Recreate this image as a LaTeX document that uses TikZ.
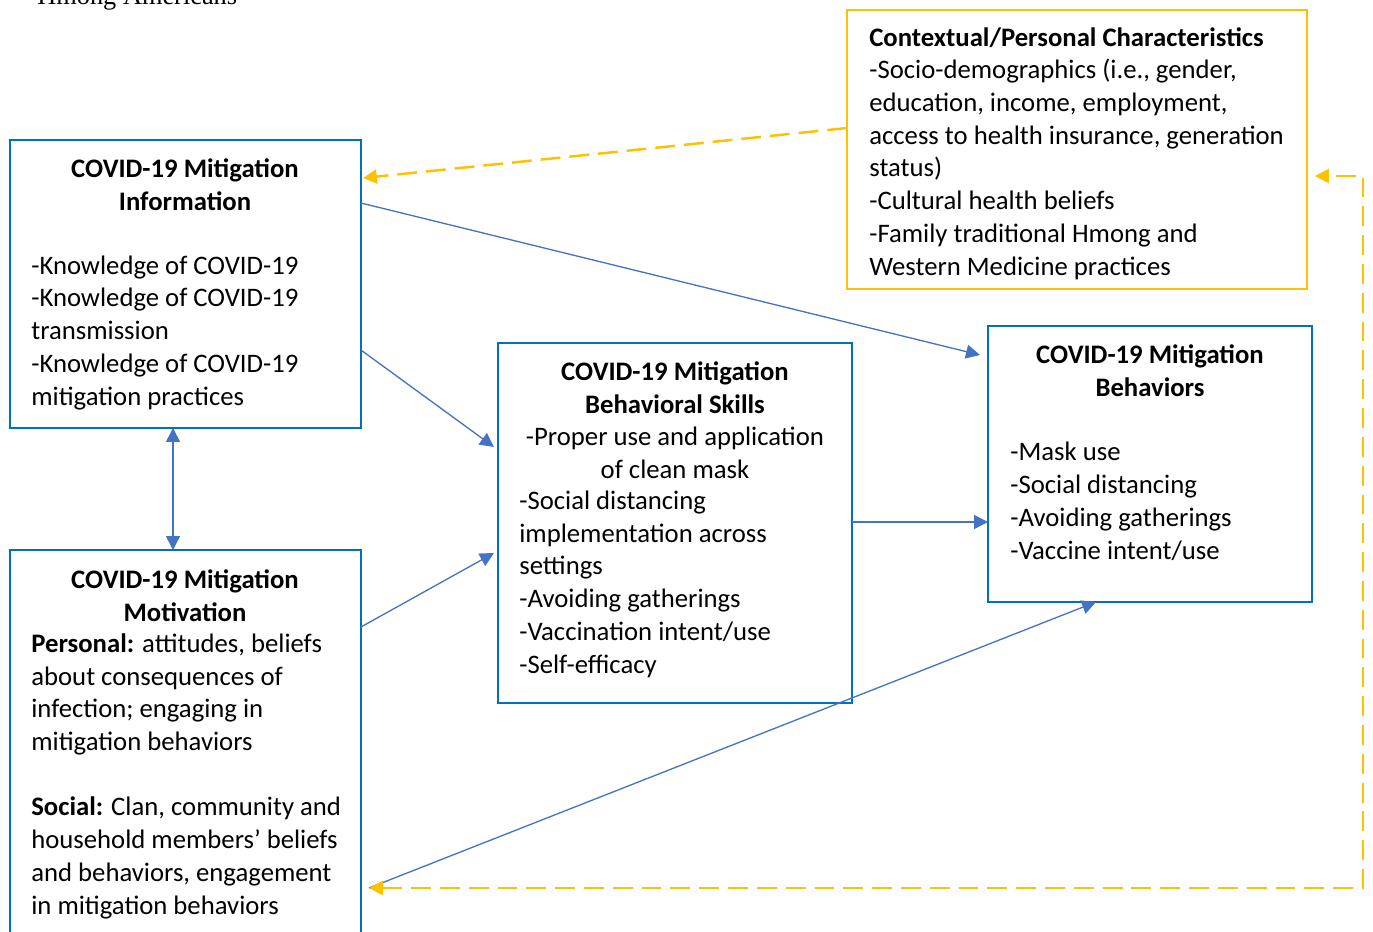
\documentclass[tikz,border=0pt]{standalone}
\usepackage{fontspec}
\setmainfont{Carlito}
\newfontfamily\capfont{Liberation Serif}
\usepackage{tikz}
\usetikzlibrary{arrows.meta,calc}
\usepackage{xcolor}
\definecolor{boxblue}{HTML}{0070C0}
\definecolor{linkblue}{HTML}{4472C4}
\definecolor{ctxgold}{HTML}{FFC000}
\newcommand{\boxfont}{\fontsize{15.2pt}{18.6pt}\selectfont}
\tikzset{
  modelbox/.style={
    draw=boxblue,
    line width=1.5pt,
    inner sep=0pt,
    outer sep=0pt,
    anchor=north west
  },
  ctxbox/.style={
    modelbox,
    draw=ctxgold
  },
  headtext/.style={
    font=\boxfont\bfseries,
    align=center,
    anchor=base,
    inner sep=0pt
  },
  bodytext/.style={
    font=\boxfont,
    align=left,
    anchor=base west,
    inner sep=0pt
  },
  link/.style={
    -{Triangle[length=0.28cm,width=0.28cm]},
    line width=0.75pt,
    draw=linkblue
  },
  ctxlink/.style={
    -{Triangle[length=0.28cm,width=0.28cm]},
    line width=1.4pt,
    draw=ctxgold,
    dash pattern=on 11.3pt off 5.1pt
  }
}

\begin{document}
\begin{tikzpicture}[x=0.02cm,y=-0.02cm]
\useasboundingbox (0,0) rectangle (1373,931);
\clip (0,0) rectangle (1373,931);

\node[anchor=base west, inner sep=0pt, font=\capfont\fontsize{15pt}{18pt}\selectfont] (caption) at (37,4) {Hmong Americans};

% boxes
\node[modelbox, minimum width=7.02cm, minimum height=5.76cm] (info) at (10,140) {};
\node[modelbox, minimum width=7.02cm, minimum height=8.4cm] (motiv) at (10,550) {};
\node[modelbox, minimum width=7.08cm, minimum height=7.2cm] (skills) at (498,343) {};
\node[modelbox, minimum width=6.48cm, minimum height=5.52cm] (behav) at (988,326) {};
\node[ctxbox, minimum width=9.2cm, minimum height=5.58cm] (ctx) at (847,10) {};

% texts (anchored at the baseline of the last line)
\node[headtext] (infohead) at (185,210) {COVID-19 Mitigation\\Information};
\node[bodytext] (infobody) at (31,405) {-Knowledge of COVID-19\\-Knowledge of COVID-19\\transmission\\-Knowledge of COVID-19\\mitigation practices};

\node[headtext] (motivhead) at (185,621) {COVID-19 Mitigation\\Motivation};
\node[bodytext] (motivbody) at (31,914) {\textbf{Personal:} attitudes, beliefs\\about consequences of\\infection; engaging in\\mitigation behaviors\\[18.6pt]\textbf{Social:} Clan, community and\\household members’ beliefs\\and behaviors, engagement\\in mitigation behaviors};

\node[headtext] (skillshead) at (675,413) {COVID-19 Mitigation\\Behavioral Skills};
\node[headtext, font=\boxfont] (skillsmask) at (675,478) {-Proper use and application\\of clean mask};
\node[bodytext] (skillsbody) at (519,673) {-Social distancing\\implementation across\\settings\\-Avoiding gatherings\\-Vaccination intent/use\\-Self-efficacy};

\node[headtext] (behavhead) at (1150,396) {COVID-19 Mitigation\\Behaviors};
\node[bodytext] (behavbody) at (1010,559) {-Mask use\\-Social distancing\\-Avoiding gatherings\\-Vaccine intent/use};

\node[bodytext] (ctxbody) at (869,275) {\textbf{Contextual/Personal Characteristics}\\-Socio-demographics (i.e., gender,\\education, income, employment,\\access to health insurance, generation\\status)\\-Cultural health beliefs\\-Family traditional Hmong and\\Western Medicine practices};

% connectors
\draw[link] ($(info.north east)+(0,63)$) -- ($(behav.north west)+(-8,29)$);
\draw[link] ($(info.north east)+(0,210)$) -- ($(skills.north west)+(-4,104)$);
\draw[link] ($(motiv.north east)+(0,77)$) -- ($(skills.north west)+(-4,210)$);
\draw[link] ($(skills.north east)+(0,179)$) -- ($(behav.north west)+(0,196)$);
\draw[link, {Triangle[length=0.28cm,width=0.28cm]}-{Triangle[length=0.28cm,width=0.28cm]}] ($(info.south west)+(163,0)$) -- ($(motiv.north west)+(163,0)$);
\draw[link] ($(motiv.north east)+(8,338)$) -- ($(behav.south west)+(108,0)$);

\draw[ctxlink] ($(ctx.north west)+(0,118)$) -- ($(info.north east)+(2,38)$);
\draw[ctxlink, {Triangle[length=0.28cm,width=0.28cm]}-{Triangle[length=0.28cm,width=0.28cm]}] ($(motiv.north east)+(8,338)$) -| ++(994,-712) -- ($(ctx.north east)+(8,166)$);
\end{tikzpicture}
\end{document}
